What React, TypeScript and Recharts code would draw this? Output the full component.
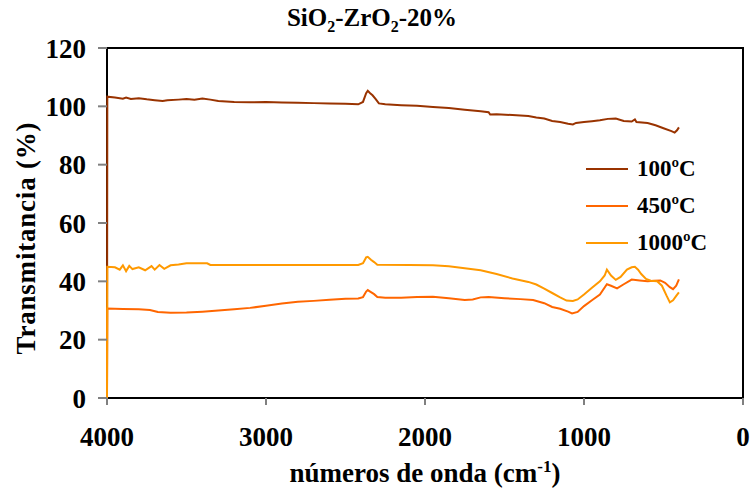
import { Line, LineChart, XAxis, YAxis } from "recharts"

// wavenumber (cm-1) / transmittance (%)
const wn100 = [4000, 3998, 3950, 3900, 3880, 3850, 3800, 3750, 3700, 3650, 3620, 3550, 3500, 3450, 3400, 3350, 3300, 3200, 3100, 3000, 2900, 2800, 2700, 2600, 2500, 2420, 2390, 2370, 2360, 2345, 2330, 2310, 2290, 2250, 2150, 2050, 1950, 1850, 1750, 1650, 1600, 1590, 1550, 1450, 1350, 1300, 1250, 1200, 1150, 1100, 1070, 1050, 1000, 950, 900, 850, 800, 750, 700, 680, 670, 600, 550, 500, 450, 430, 415, 403]
const t100 = [0, 103.3, 103, 102.6, 103, 102.5, 102.8, 102.4, 102.1, 101.8, 102.1, 102.3, 102.5, 102.3, 102.7, 102.3, 101.8, 101.5, 101.4, 101.5, 101.3, 101.2, 101.1, 101, 100.9, 100.7, 101.5, 104.5, 105.3, 104.5, 103.8, 102.5, 101, 100.7, 100.4, 100.2, 99.8, 99.4, 98.8, 98.3, 98, 97.2, 97.3, 97, 96.7, 96.2, 95.8, 95, 94.6, 94, 93.8, 94.3, 94.6, 94.9, 95.2, 95.7, 95.8, 95, 94.8, 95.5, 94.6, 94.3, 93.5, 92.5, 91.5, 91, 91.8, 92.8]

const wn450 = [4000, 3998, 3900, 3800, 3730, 3680, 3600, 3500, 3400, 3300, 3200, 3100, 3000, 2900, 2800, 2700, 2600, 2500, 2420, 2390, 2370, 2360, 2340, 2320, 2300, 2250, 2150, 2050, 1950, 1850, 1750, 1700, 1650, 1600, 1500, 1400, 1320, 1250, 1200, 1150, 1100, 1075, 1040, 1000, 950, 900, 856, 830, 792, 750, 700, 650, 600, 560, 520, 490, 460, 440, 420, 403]
const t450 = [0, 30.7, 30.5, 30.4, 30.2, 29.5, 29.2, 29.3, 29.6, 30, 30.4, 30.9, 31.6, 32.4, 33, 33.3, 33.7, 34, 34.1, 34.6, 36.5, 37, 36.3, 35.6, 34.6, 34.4, 34.4, 34.6, 34.7, 34.2, 33.6, 33.8, 34.5, 34.6, 34.2, 33.9, 33.6, 32.5, 31.2, 30.6, 29.6, 29, 29.5, 31.5, 33.5, 35.5, 39, 38.5, 37.6, 39, 40.6, 40.3, 40, 40.2, 40.3, 39.5, 38, 37.3, 38.5, 40.7]

const wn1000 = [4000, 3998, 3950, 3920, 3900, 3880, 3860, 3840, 3800, 3760, 3720, 3700, 3670, 3640, 3600, 3550, 3500, 3400, 3370, 3350, 3000, 2600, 2420, 2390, 2370, 2360, 2340, 2320, 2300, 2100, 1950, 1850, 1750, 1650, 1550, 1450, 1350, 1300, 1250, 1200, 1150, 1110, 1070, 1040, 1000, 950, 900, 870, 856, 830, 800, 770, 730, 700, 680, 660, 640, 610, 580, 540, 510, 480, 460, 440, 420, 403]
const t1000 = [0, 45, 44.8, 44, 45.5, 43.5, 45.3, 44.2, 44.8, 43.8, 45.2, 44, 45.6, 44.3, 45.5, 45.8, 46.2, 46.2, 46.2, 45.6, 45.6, 45.6, 45.6, 46.2, 48.2, 48.4, 47.4, 46.6, 45.7, 45.6, 45.5, 45.2, 44.5, 43.8, 42.5, 41, 39.8, 38.9, 37.5, 36, 34.5, 33.4, 33.3, 33.8, 35.5, 37.8, 40, 42, 44, 42, 40.5, 41.5, 44, 44.8, 45, 44, 42.5, 40.8, 40.2, 40, 38.5, 35, 32.8, 33.5, 35, 36.2]

const xTicks = [0, 1000, 2000, 3000, 4000]
const yTicks = [0, 20, 40, 60, 80, 100, 120]

const series = [
  { name: "100ºC", color: "#993300", wn: wn100, t: t100 },
  { name: "450ºC", color: "#FF6600", wn: wn450, t: t450 },
  { name: "1000ºC", color: "#FF9900", wn: wn1000, t: t1000 },
]

const serif = "'Liberation Serif', 'Times New Roman', serif"
const tickStyle = { fill: "#000", fontSize: 27, fontWeight: "bold", fontFamily: serif }

function LegendBox() {
  return (
    <div
      style={{
        position: "absolute", left: 586, top: 150,
        fontFamily: serif, fontWeight: "bold", fontSize: 23,
      }}
    >
      {series.map((s) => (
        <div key={s.name} style={{ display: "flex", alignItems: "center", height: 37 }}>
          <svg width={42} height={4} style={{ marginRight: 9 }}>
            <line x1={0} x2={42} y1={2} y2={2} stroke={s.color} strokeWidth={2} />
          </svg>
          <span>{s.name}</span>
        </div>
      ))}
    </div>
  )
}

export default function App() {
  return (
    <div style={{ position: "absolute", left: 0, top: 0, width: 754, height: 488, background: "#fff" }}>
      {/* plot frame sits under the svg so the series cover the left edge like the original */}
      <div
        style={{
          position: "absolute", left: 106, top: 47, width: 634, height: 348,
          border: "2px solid #000",
        }}
      />
      <div
        style={{
          position: "absolute", left: 197, width: 350, top: 3, textAlign: "center",
          fontFamily: serif, fontWeight: "bold", fontSize: 25, lineHeight: "30px",
        }}
      >
        SiO<sub style={{ fontSize: 16 }}>2</sub>-ZrO<sub style={{ fontSize: 16 }}>2</sub>-20%
      </div>
      <LineChart width={754} height={488} margin={{ top: 48, right: 11, left: 0, bottom: 0 }}>
        <XAxis
          type="number"
          dataKey="x"
          domain={[0, 4000]}
          ticks={xTicks}
          reversed
          height={90}
          tickSize={7}
          tickMargin={22}
          tick={tickStyle}
          axisLine={false}
          tickLine={{ stroke: "#808080", strokeWidth: 2 }}
        />
        <YAxis
          type="number"
          domain={[0, 120]}
          ticks={yTicks}
          width={107}
          tickSize={9}
          tickMargin={12}
          tick={tickStyle}
          axisLine={false}
          tickLine={{ stroke: "#808080", strokeWidth: 2 }}
        />
        {series.map((s) => (
          <Line
            key={s.name}
            name={s.name}
            data={s.wn.map((x, i) => ({ x, y: s.t[i] }))}
            dataKey="y"
            type="linear"
            stroke={s.color}
            strokeWidth={2}
            dot={false}
            isAnimationActive={false}
          />
        ))}
      </LineChart>
      <LegendBox />
      <div
        style={{
          position: "absolute", left: 107, width: 636, top: 452, textAlign: "center",
          fontFamily: serif, fontWeight: "bold", fontSize: 27, lineHeight: "30px",
        }}
      >
        números de onda (cm<sup style={{ fontSize: 17 }}>-1</sup>)
      </div>
      <div
        style={{
          position: "absolute", left: 26, top: 238, transform: "translate(-50%, -50%) rotate(-90deg)",
          whiteSpace: "nowrap", fontFamily: serif, fontWeight: "bold", fontSize: 27, lineHeight: "30px",
          letterSpacing: 0.8,
        }}
      >
        Transmitancia (%)
      </div>
    </div>
  )
}
